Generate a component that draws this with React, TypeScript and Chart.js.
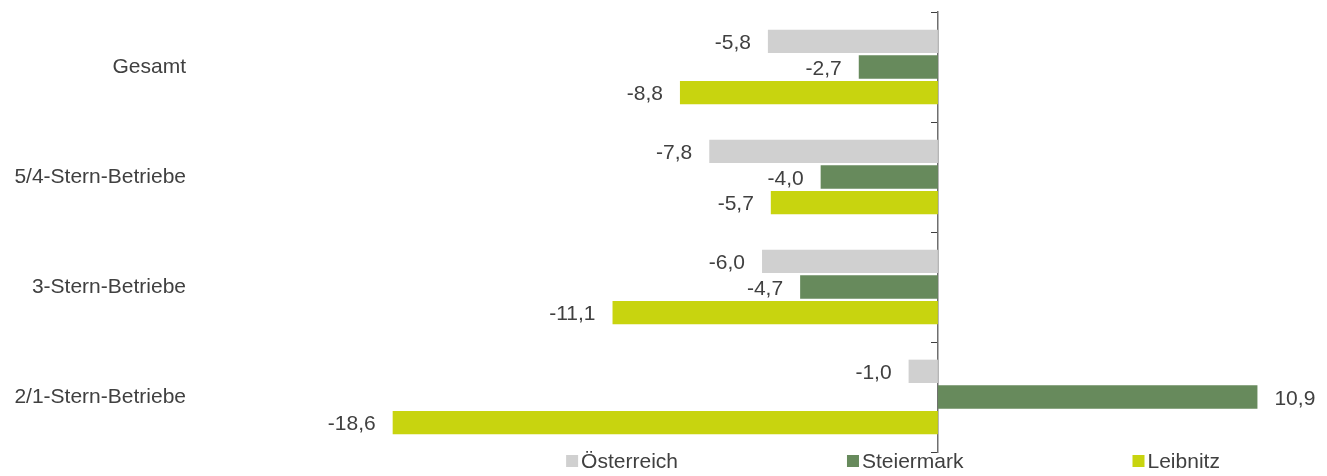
import React, { useEffect, useRef } from "react";
import { Chart, registerables } from "chart.js";

Chart.register(...registerables);

const categories = ["Gesamt", "5/4-Stern-Betriebe", "3-Stern-Betriebe", "2/1-Stern-Betriebe"];
const seriesNames = ["Österreich", "Steiermark", "Leibnitz"];
const oesterreich = [-5.8, -7.8, -6.0, -1.0];
const steiermark = [-2.7, -4.0, -4.7, 10.9];
const leibnitz = [-8.8, -5.7, -11.1, -18.6];
const seriesColors = ["#D0D0D0", "#678A5C", "#C8D40F"];

const FONT = "'Liberation Sans', Arial, sans-serif";
const TEXT = "#404040";

const valueLabels = {
  id: "valueLabels",
  afterDatasetsDraw(chart: any) {
    const ctx = chart.ctx;
    ctx.save();
    ctx.font = `21px ${FONT}`;
    ctx.fillStyle = TEXT;
    ctx.textBaseline = "middle";
    chart.data.datasets.forEach((ds: any, di: number) => {
      const meta = chart.getDatasetMeta(di);
      meta.data.forEach((el: any, i: number) => {
        const v = ds.data[i] as number;
        const txt = v.toFixed(1).replace(".", ",");
        if (v < 0) {
          ctx.textAlign = "right";
          ctx.fillText(txt, el.x - 17, el.y + 2);
        } else {
          ctx.textAlign = "left";
          ctx.fillText(txt, el.x + 17, el.y + 2);
        }
      });
    });
    ctx.restore();
  },
};

const bottomLegend = {
  id: "bottomLegend",
  afterDraw(chart: any) {
    const ctx = chart.ctx;
    ctx.save();
    ctx.font = `21px ${FONT}`;
    const box = 12;
    const gapBoxText = 3;
    const gapItems = 169;
    const widths = chart.data.datasets.map((ds: any) => box + gapBoxText + ctx.measureText(ds.label).width);
    const total = widths.reduce((a: number, b: number) => a + b, 0) + gapItems * (widths.length - 1);
    const centerX = 885;
    let x = centerX - total / 2;
    const baseline = chart.height;
    chart.data.datasets.forEach((ds: any, i: number) => {
      ctx.fillStyle = ds.backgroundColor;
      ctx.fillRect(x, baseline - 13, box, box);
      ctx.fillStyle = TEXT;
      ctx.textAlign = "left";
      ctx.textBaseline = "alphabetic";
      ctx.fillText(ds.label, x + box + gapBoxText, baseline);
      x += widths[i] + gapItems;
    });
    ctx.restore();
  },
};

export default function App() {
  const ref = useRef<HTMLCanvasElement | null>(null);

  useEffect(() => {
    if (!ref.current) return;
    const series = [oesterreich, steiermark, leibnitz];
    const chart = new Chart(ref.current, {
      type: "bar",
      data: {
        labels: categories,
        datasets: series.map((d, i) => ({
          label: seriesNames[i],
          data: d,
          backgroundColor: seriesColors[i],
          borderWidth: 0,
          categoryPercentage: 0.7,
          barPercentage: 0.91,
        })),
      },
      options: {
        indexAxis: "y",
        animation: false,
        responsive: true,
        maintainAspectRatio: false,
        layout: { padding: { top: 4, bottom: 16, left: 0, right: 0 } },
        plugins: {
          legend: { display: false },
          tooltip: { enabled: false },
          title: { display: false },
        },
        scales: {
          x: {
            type: "linear",
            min: -22,
            max: 13,
            display: false,
            grid: { display: false },
          },
          y: {
            type: "category",
            axis: "y",
            position: "left",
            offset: true,
            grid: { display: false, offset: true },
            border: { display: false },
            ticks: {
              color: TEXT,
              font: { family: FONT, size: 21 },
              padding: 99,
              autoSkip: false,
            },
            afterFit: (s: any) => {
              s.width = 285;
              s.paddingTop = 0;
              s.paddingBottom = 0;
            },
          },
          y2: {
            type: "category",
            axis: "y",
            position: { x: 0 },
            offset: true,
            grid: {
              display: true,
              offset: true,
              drawOnChartArea: false,
              drawTicks: true,
              tickLength: 6,
              color: "#404040",
              lineWidth: 1,
            },
            border: { display: true, color: "#6F6F6F", width: 1.5 },
            ticks: { display: false },
            afterFit: (s: any) => {
              s.paddingTop = 0;
              s.paddingBottom = 0;
              s.paddingLeft = 0;
              s.paddingRight = 0;
            },
          },
        } as any,
      },
      plugins: [valueLabels, bottomLegend],
    } as any);
    return () => chart.destroy();
  }, []);

  return (
    <div style={{ position: "relative", height: "460px" }}>
      <canvas ref={ref} />
    </div>
  );
}
